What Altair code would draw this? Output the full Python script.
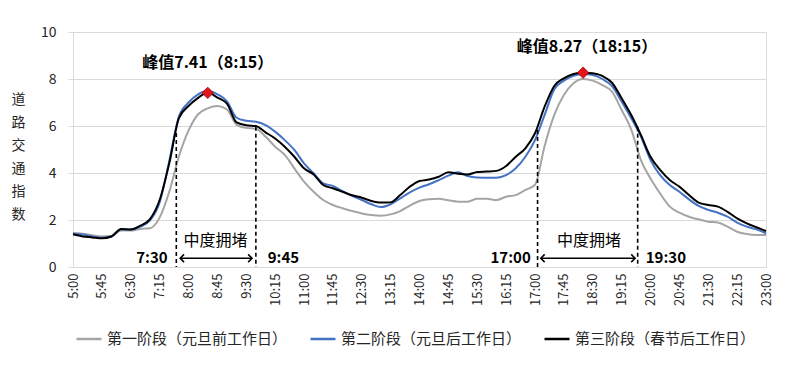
import altair as alt
import pandas as pd

# 15-minute slots from 5:00 to 23:00 (minutes since midnight)
minutes = list(range(300, 1381, 15))
tick_minutes = list(range(300, 1381, 45))

names = ["第一阶段（元旦前工作日）", "第二阶段（元旦后工作日）", "第三阶段（春节后工作日）"]
colors = ["#a5a5a5", "#4472c4", "#000000"]

stage1 = [1.45, 1.42, 1.35, 1.30, 1.32, 1.55, 1.55, 1.62, 1.65, 2.10, 3.20, 4.70, 5.80,
          6.50, 6.75, 6.85, 6.70, 6.05, 5.92, 5.88, 5.55, 5.12, 4.77, 4.20, 3.63, 3.20,
          2.85, 2.64, 2.50, 2.38, 2.28, 2.21, 2.18, 2.24, 2.38, 2.61, 2.81, 2.88, 2.90,
          2.84, 2.78, 2.78, 2.90, 2.90, 2.85, 2.99, 3.06, 3.28, 3.50, 5.15, 6.47, 7.32,
          7.82, 8.00, 7.93, 7.74, 7.46, 6.68, 5.85, 4.55, 3.77, 3.13, 2.57, 2.31, 2.14,
          2.03, 1.93, 1.89, 1.72, 1.50, 1.40, 1.36, 1.36]
stage2 = [1.42, 1.38, 1.30, 1.25, 1.30, 1.60, 1.60, 1.72, 1.98, 2.75, 4.50, 6.40, 7.00,
          7.35, 7.50, 7.35, 7.05, 6.35, 6.22, 6.18, 6.04, 5.76, 5.40, 4.98, 4.41, 3.99,
          3.56, 3.45, 3.23, 3.03, 2.85, 2.67, 2.55, 2.67, 2.92, 3.18, 3.38, 3.52, 3.70,
          3.89, 4.03, 3.87, 3.81, 3.80, 3.80, 3.91, 4.20, 4.69, 5.40, 6.47, 7.56, 7.93,
          8.14, 8.21, 8.17, 8.00, 7.70, 7.04, 6.33, 5.55, 4.55, 3.91, 3.49, 3.20, 2.88,
          2.60, 2.43, 2.31, 2.14, 1.89, 1.72, 1.60, 1.43]
stage3 = [1.39, 1.30, 1.26, 1.22, 1.30, 1.62, 1.60, 1.76, 2.04, 2.85, 4.41, 6.33, 6.85,
          7.20, 7.41, 7.21, 6.95, 6.15, 6.03, 6.00, 5.73, 5.47, 5.12, 4.69, 4.20, 3.94,
          3.49, 3.35, 3.20, 3.05, 2.95, 2.81, 2.74, 2.75, 3.06, 3.42, 3.66, 3.72, 3.84,
          4.03, 3.97, 3.94, 4.04, 4.06, 4.09, 4.30, 4.69, 5.05, 5.69, 6.82, 7.70, 8.03,
          8.21, 8.27, 8.24, 8.13, 7.84, 7.18, 6.47, 5.62, 4.69, 4.13, 3.70, 3.42, 3.06,
          2.74, 2.64, 2.57, 2.35, 2.07, 1.86, 1.69, 1.53]

# annotations
peak_t = [510, 1095]
peak_v = [7.41, 8.27]
peak_label_t = [510, 1101]
peak_label_v = [8.69, 9.38]
peak_labels = ["峰值7.41（8:15）", "峰值8.27（18:15）"]

dash_t = [461, 585, 1024, 1180]
dash_v = [5.70, 5.97, 5.83, 5.97]

arrow_start = [467, 1029]
arrow_end = [579, 1176]
arrow_v = [0.37, 0.37]

jam_t = [522, 1104]
jam_v = [1.10, 1.10]
jam_text = ["中度拥堵", "中度拥堵"]

time_t = [423, 628, 982, 1224]
time_v = [0.38, 0.38, 0.38, 0.38]
time_text = ["7:30", "9:45", "17:00", "19:30"]

FONT = "Noto Sans CJK SC"

df = pd.DataFrame({
    "t": minutes * 3,
    "v": stage1 + stage2 + stage3,
    "s": [names[0]] * len(minutes) + [names[1]] * len(minutes) + [names[2]] * len(minutes),
})

xscale = alt.Scale(domain=[300, 1380], nice=False, zero=False)
yscale = alt.Scale(domain=[0, 10], nice=False)

x = alt.X(
    "t:Q", scale=xscale, title=None,
    axis=alt.Axis(
        values=tick_minutes, tickCount=len(tick_minutes),
        labelExpr="floor(datum.value/60) + ':' + (datum.value % 60 < 10 ? '0' : '') + (datum.value % 60)",
        labelAngle=270, labelFontSize=13, labelColor="#262626", labelFont=FONT,
        labelOverlap=False, labelBound=False, labelFlush=False,
        ticks=False, grid=False, domainColor="#d9d9d9", labelPadding=6,
    ),
)
y = alt.Y(
    "v:Q", scale=yscale,
    title=list("道路交通指数"),
    axis=alt.Axis(
        values=[0, 2, 4, 6, 8, 10], gridColor="#d9d9d9", domain=False,
        tickColor="#d9d9d9", tickSize=5, labelFontSize=14, labelColor="#262626",
        labelPadding=12, labelFont=FONT,
        titleAngle=0, titleX=-55, titleY=60, titleAlign="center", titleBaseline="top",
        titleLineHeight=23, titleFontSize=14, titleFontWeight="normal", titleFont=FONT,
        titleColor="#262626",
    ),
)
color = alt.Color(
    "s:N", scale=alt.Scale(domain=names, range=colors),
    legend=alt.Legend(
        title=None, orient="none", legendX=2, legendY=293, direction="horizontal",
        columns=3, columnPadding=17, symbolType="stroke", symbolSize=625,
        symbolStrokeWidth=2.5, labelFontSize=15, labelLimit=400, labelFont=FONT,
        labelColor="#262626", labelOffset=4,
    ),
)

base = alt.Chart(df)
layers = []
for n in names:
    layers.append(
        base.transform_filter(alt.datum.s == n)
        .mark_line(strokeWidth=2, interpolate="monotone")
        .encode(x=x, y=y, color=color)
    )

dash_df = pd.DataFrame({"t": dash_t, "v": dash_v, "z": [0] * len(dash_t)})
dashes = alt.Chart(dash_df).mark_rule(color="black", strokeWidth=1.6, strokeDash=[4, 3]).encode(
    x="t:Q", y="v:Q", y2="z:Q"
)

arrow_df = pd.DataFrame({"a": arrow_start, "b": arrow_end, "v": arrow_v})
arrows = alt.Chart(arrow_df).mark_rule(color="black", strokeWidth=1.6).encode(
    x="a:Q", x2="b:Q", y="v:Q"
)
heads_l = alt.Chart(arrow_df).mark_point(
    shape="M1,-1L0,0L1,1", size=60, filled=False, color="black", strokeWidth=1.6, opacity=1
).encode(x="a:Q", y="v:Q")
heads_r = alt.Chart(arrow_df).mark_point(
    shape="M-1,-1L0,0L-1,1", size=60, filled=False, color="black", strokeWidth=1.6, opacity=1
).encode(x="b:Q", y="v:Q")

jam_df = pd.DataFrame({"t": jam_t, "v": jam_v, "txt": jam_text})
jam = alt.Chart(jam_df).mark_text(font=FONT, fontSize=16, color="black", baseline="middle").encode(
    x="t:Q", y="v:Q", text="txt:N"
)

time_df = pd.DataFrame({"t": time_t, "v": time_v, "txt": time_text})
times = alt.Chart(time_df).mark_text(
    font=FONT, fontSize=15, fontWeight="bold", color="black", baseline="middle"
).encode(x="t:Q", y="v:Q", text="txt:N")

pl_df = pd.DataFrame({"t": peak_label_t, "v": peak_label_v, "txt": peak_labels})
peak_text = alt.Chart(pl_df).mark_text(
    font=FONT, fontSize=16, fontWeight="bold", color="black", baseline="middle"
).encode(x="t:Q", y="v:Q", text="txt:N")

pk_df = pd.DataFrame({"t": peak_t, "v": peak_v})
peaks = alt.Chart(pk_df).mark_point(
    shape="diamond", size=130, filled=True, fill="#e3161c", stroke="#9c0006",
    strokeWidth=0.8, opacity=1
).encode(x="t:Q", y="v:Q")

chart = alt.layer(
    *layers, dashes, arrows, heads_l, heads_r, jam, times, peak_text, peaks
).properties(
    width=693, height=235,
    padding={"left": 65, "top": 24, "right": 15, "bottom": 95},
    autosize=alt.AutoSizeParams(type="none"),
).configure_view(stroke=None).configure(font=FONT).configure_axisX(
    labelOverlap=False, labelSeparation=0
)

chart.save("out.html", embed_options={"renderer": "svg", "actions": False})
